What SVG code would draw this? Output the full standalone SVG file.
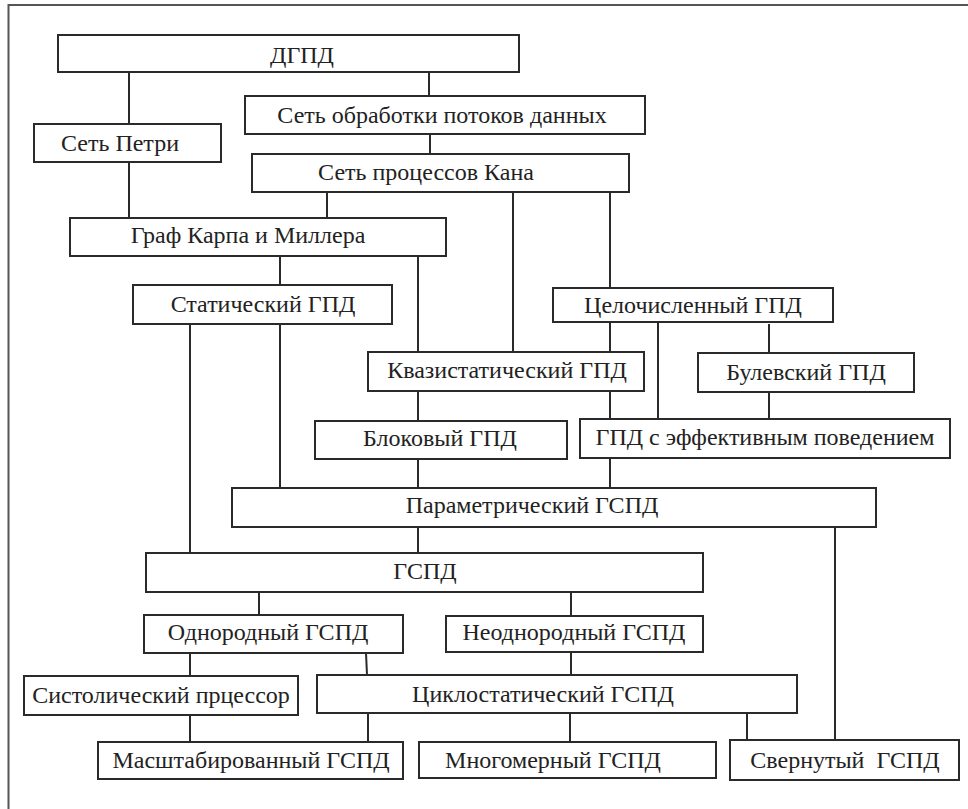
<svg xmlns="http://www.w3.org/2000/svg" width="968" height="809" viewBox="0 0 968 809">
<style>
.n rect{fill:#fff;stroke:#2a2a2a;stroke-width:2}
.n text{font-family:"Liberation Serif","Times New Roman",serif;font-size:24px;fill:#222;text-anchor:middle}
#edges line{stroke:#2a2a2a;stroke-width:2}
.frame{stroke:#555;stroke-width:2;fill:none}
</style>
<rect width="968" height="809" fill="#fff"/>
<path class="frame" d="M8.5,809 V5 H968"/>
<g id="edges">
<line x1="129" y1="72" x2="129" y2="124"/>
<line x1="429" y1="72" x2="429" y2="96"/>
<line x1="430" y1="134" x2="430" y2="154"/>
<line x1="129" y1="162" x2="129" y2="218"/>
<line x1="327" y1="192" x2="327" y2="218"/>
<line x1="513" y1="192" x2="513" y2="352"/>
<line x1="610" y1="192" x2="610" y2="288"/>
<line x1="280" y1="256" x2="280" y2="285"/>
<line x1="418" y1="256" x2="418" y2="352"/>
<line x1="190" y1="324" x2="190" y2="553"/>
<line x1="280" y1="324" x2="280" y2="488"/>
<line x1="610" y1="322" x2="610" y2="352"/>
<line x1="658" y1="322" x2="658" y2="419"/>
<line x1="769" y1="324" x2="769" y2="353"/>
<line x1="418" y1="391" x2="418" y2="421"/>
<line x1="610" y1="391" x2="610" y2="419"/>
<line x1="769" y1="392" x2="769" y2="419"/>
<line x1="418" y1="459" x2="418" y2="488"/>
<line x1="610" y1="458" x2="610" y2="488"/>
<line x1="418" y1="527" x2="418" y2="553"/>
<line x1="835" y1="527" x2="835" y2="740"/>
<line x1="259" y1="592" x2="259" y2="615"/>
<line x1="571" y1="592" x2="571" y2="616"/>
<line x1="190" y1="653" x2="190" y2="676"/>
<line x1="366" y1="653" x2="367" y2="675"/>
<line x1="571" y1="652" x2="571" y2="675"/>
<line x1="190" y1="715" x2="190" y2="742"/>
<line x1="368" y1="713" x2="368" y2="742"/>
<line x1="570" y1="713" x2="570" y2="742"/>
<line x1="747" y1="713" x2="747" y2="740"/>
</g>
<g id="n-dgpd" class="n"><rect x="58" y="35" width="461" height="37"/><text x="302" y="63">ДГПД</text></g>
<g id="n-dataflow" class="n"><rect x="245" y="96" width="400" height="38"/><text x="442" y="123">Сеть обработки потоков данных</text></g>
<g id="n-petri" class="n"><rect x="34" y="124" width="187" height="38"/><text x="120" y="151">Сеть Петри</text></g>
<g id="n-kahn" class="n"><rect x="252" y="154" width="377" height="38"/><text x="426" y="180">Сеть процессов Кана</text></g>
<g id="n-karp" class="n"><rect x="70" y="218" width="376" height="38"/><text x="248" y="243">Граф Карпа и Миллера</text></g>
<g id="n-static" class="n"><rect x="133" y="285" width="259" height="39"/><text x="263" y="312">Статический ГПД</text></g>
<g id="n-integer" class="n"><rect x="553" y="288" width="280" height="34"/><text x="693" y="313">Целочисленный ГПД</text></g>
<g id="n-quasi" class="n"><rect x="368" y="352" width="276" height="39"/><text x="507" y="378">Квазистатический ГПД</text></g>
<g id="n-bool" class="n"><rect x="698" y="353" width="216" height="39"/><text x="806" y="380">Булевский ГПД</text></g>
<g id="n-block" class="n"><rect x="315" y="421" width="252" height="38"/><text x="440" y="446">Блоковый ГПД</text></g>
<g id="n-effective" class="n"><rect x="580" y="419" width="370" height="39"/><text x="765" y="445">ГПД с эффективным поведением</text></g>
<g id="n-param" class="n"><rect x="232" y="488" width="644" height="39"/><text x="532" y="513">Параметрический ГСПД</text></g>
<g id="n-gspd" class="n"><rect x="146" y="553" width="557" height="39"/><text x="425" y="579">ГСПД</text></g>
<g id="n-homo" class="n"><rect x="144" y="615" width="259" height="38"/><text x="268" y="640">Однородный ГСПД</text></g>
<g id="n-hetero" class="n"><rect x="446" y="616" width="257" height="36"/><text x="574" y="640">Неоднородный ГСПД</text></g>
<g id="n-systolic" class="n"><rect x="24" y="676" width="274" height="39"/><text x="161" y="703">Систолический прцессор</text></g>
<g id="n-cyclo" class="n"><rect x="317" y="675" width="480" height="38"/><text x="543" y="702">Циклостатический ГСПД</text></g>
<g id="n-scaled" class="n"><rect x="98" y="742" width="305" height="37"/><text x="251" y="768">Масштабированный ГСПД</text></g>
<g id="n-multi" class="n"><rect x="419" y="742" width="297" height="36"/><text x="553" y="768">Многомерный ГСПД</text></g>
<g id="n-folded" class="n"><rect x="730" y="740" width="229" height="40"/><text x="845" y="768" xml:space="preserve">Свернутый  ГСПД</text></g>
</svg>
